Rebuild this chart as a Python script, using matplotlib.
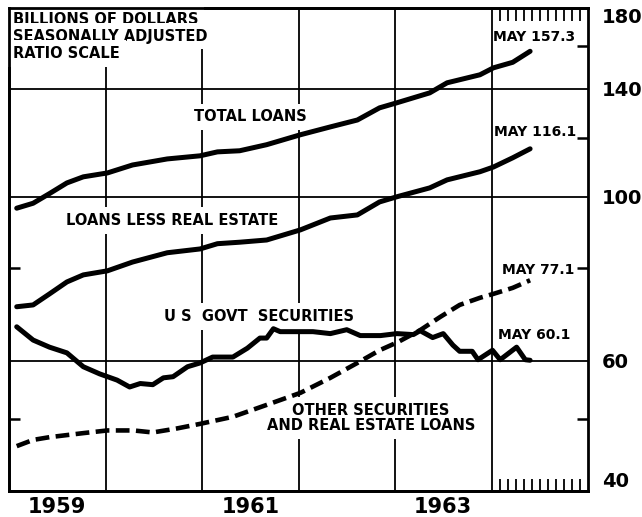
import matplotlib.pyplot as plt
from matplotlib.ticker import NullFormatter, NullLocator

# dates are decimal years, values in billions of dollars (ratio scale)
loan_dates = [1959.08, 1959.25, 1959.42, 1959.60, 1959.77, 1960.02, 1960.28, 1960.64,
              1960.98, 1961.16, 1961.39, 1961.67, 1962.02, 1962.33, 1962.61, 1962.84,
              1963.02, 1963.36, 1963.54, 1963.88, 1964.02, 1964.22, 1964.40]
total_loans = [96.5, 98.0, 101.0, 104.4, 106.4, 107.7, 110.4, 112.5,
               113.6, 115.0, 115.4, 117.6, 121.3, 124.3, 127.0, 131.9,
               134.0, 138.2, 142.6, 146.2, 149.4, 152.0, 157.3]
loans_less_re = [71.0, 71.4, 73.9, 76.7, 78.4, 79.4, 81.6, 84.0,
                 85.0, 86.4, 86.8, 87.4, 90.2, 93.6, 94.5, 98.4,
                 100.0, 102.8, 105.4, 108.1, 109.7, 112.9, 116.1]

govt_dates = [1959.08, 1959.25, 1959.42, 1959.60, 1959.77, 1959.94, 1960.12, 1960.25,
              1960.36, 1960.49, 1960.60, 1960.70, 1960.85, 1960.98, 1961.11, 1961.32,
              1961.47, 1961.60, 1961.67, 1961.74, 1961.81, 1962.02, 1962.15, 1962.33,
              1962.50, 1962.64, 1962.85, 1963.02, 1963.19, 1963.26, 1963.39, 1963.50,
              1963.60, 1963.67, 1963.80, 1963.86, 1964.01, 1964.09, 1964.26, 1964.35,
              1964.40]
govt_sec = [66.7, 64.0, 62.6, 61.5, 58.9, 57.6, 56.5, 55.3,
            55.9, 55.7, 56.9, 57.1, 58.9, 59.6, 60.7, 60.7,
            62.4, 64.4, 64.4, 66.3, 65.7, 65.7, 65.7, 65.3,
            66.1, 64.9, 64.9, 65.3, 65.1, 65.9, 64.5, 65.3,
            63.0, 61.8, 61.8, 60.2, 62.0, 60.2, 62.6, 60.2,
            60.1]

other_dates = [1959.08, 1959.25, 1959.42, 1959.77, 1960.02, 1960.29, 1960.49, 1960.74,
               1960.98, 1961.32, 1961.67, 1962.02, 1962.33, 1962.61, 1962.84, 1963.03,
               1963.26, 1963.47, 1963.67, 1963.88, 1964.02, 1964.22, 1964.40]
other_sec = [46.0, 46.9, 47.3, 47.9, 48.3, 48.3, 48.0, 48.6,
             49.3, 50.4, 52.3, 54.3, 56.9, 59.6, 62.0, 63.6,
             66.0, 68.8, 71.4, 73.0, 73.9, 75.3, 77.1]

scale_levels = [40, 60, 100, 140, 180]
scale_labels = ["40", "60", "100", "140", "180"]
right_marks = [50, 80, 120, 160]
left_marks = [50, 80]
year_lines = [1960, 1961, 1962, 1963, 1964]
year_centers = [1959.5, 1961.5, 1963.5]
year_labels = ["1959", "1961", "1963"]
month_marks = [1964 + m / 12 for m in range(1, 12)]

fig = plt.figure(figsize=(6.42, 5.17), dpi=100)
ax = fig.add_axes([9 / 642, 26 / 517, 579 / 642, 483 / 517])
ax.set_yscale("log")
ax.set_ylim(40, 180)
ax.set_xlim(1959, 1965)

lw = 3.6
ax.plot(loan_dates, total_loans, color="black", lw=lw, solid_capstyle="round", zorder=4)
ax.plot(loan_dates, loans_less_re, color="black", lw=lw, solid_capstyle="round", zorder=4)
ax.plot(govt_dates, govt_sec, color="black", lw=lw, solid_capstyle="round", zorder=4)
ax.plot(other_dates, other_sec, color="black", lw=3.3, ls=(0, (3.0, 1.4)), zorder=4)

# y axis: labels + inward marks on the right
ax.yaxis.tick_right()
ax.set_yticks(scale_levels, labels=scale_labels)
ax.set_yticks(right_marks, minor=True)
ax.yaxis.set_minor_formatter(NullFormatter())
ax.tick_params(axis="y", which="major", length=0, pad=10, labelsize=14)
ax.tick_params(axis="y", which="minor", direction="in", length=8, width=1.8)
ylabs = ax.get_yticklabels()
for t in ylabs:
    t.set_fontweight("bold")
ylabs[0].set_va("bottom")
ylabs[-1].set_va("top")

sec = ax.secondary_yaxis("left")
sec.set_yticks(left_marks)
sec.yaxis.set_minor_locator(NullLocator())
sec.tick_params(direction="in", length=8, width=1.8, labelleft=False)
sec.spines["left"].set_linewidth(2)

# x axis: year lines, labels at year centers
ax.set_xticks(year_lines, labels=[])
ax.set_xticks(year_centers, labels=year_labels, minor=True)
ax.tick_params(axis="x", which="major", length=0)
ax.tick_params(axis="x", which="minor", length=0, pad=4, labelsize=15)
for t in ax.get_xticklabels(minor=True):
    t.set_fontweight("bold")

for side in ["top", "bottom"]:
    m = ax.secondary_xaxis(side)
    m.set_xticks(month_marks)
    m.tick_params(direction="in", length=9, width=1.3, labeltop=False, labelbottom=False)
    m.spines[side].set_linewidth(2)

ax.grid(True, which="major", color="black", lw=1.3)
ax.set_axisbelow(True)
for s in ax.spines.values():
    s.set_linewidth(2)

# white boxes break the grid lines behind the labels, as in the original
box = dict(facecolor="white", edgecolor="none", boxstyle="square,pad=0.4")
lab = dict(fontsize=10.5, fontweight="bold", ha="center", va="center", bbox=box, zorder=2)

for ypos, line in [(0.977, "BILLIONS OF DOLLARS"), (0.942, "SEASONALLY ADJUSTED"),
                   (0.906, "RATIO SCALE")]:
    ax.text(0.007, ypos, line, transform=ax.transAxes, ha="left", va="center",
            fontsize=10.5, fontweight="bold", bbox=box, zorder=2)

ax.text(1961.50, 128.2, "TOTAL LOANS", **lab)
ax.text(1960.69, 92.8, "LOANS LESS REAL ESTATE", **lab)
ax.text(1961.59, 68.9, "U S  GOVT  SECURITIES", **lab)
ax.text(1962.75, 50.2, "OTHER SECURITIES\nAND REAL ESTATE LOANS", linespacing=1.05, **lab)

may = dict(fontsize=10, fontweight="bold", ha="right", va="center", zorder=5)
ax.text(1964.87, 164.5, "MAY 157.3", **may)
ax.text(1964.88, 122.4, "MAY 116.1", **may)
ax.text(1964.86, 79.6, "MAY 77.1", **may)
ax.text(1964.82, 65.0, "MAY 60.1", **may)

fig.savefig("out.png", dpi=100)
